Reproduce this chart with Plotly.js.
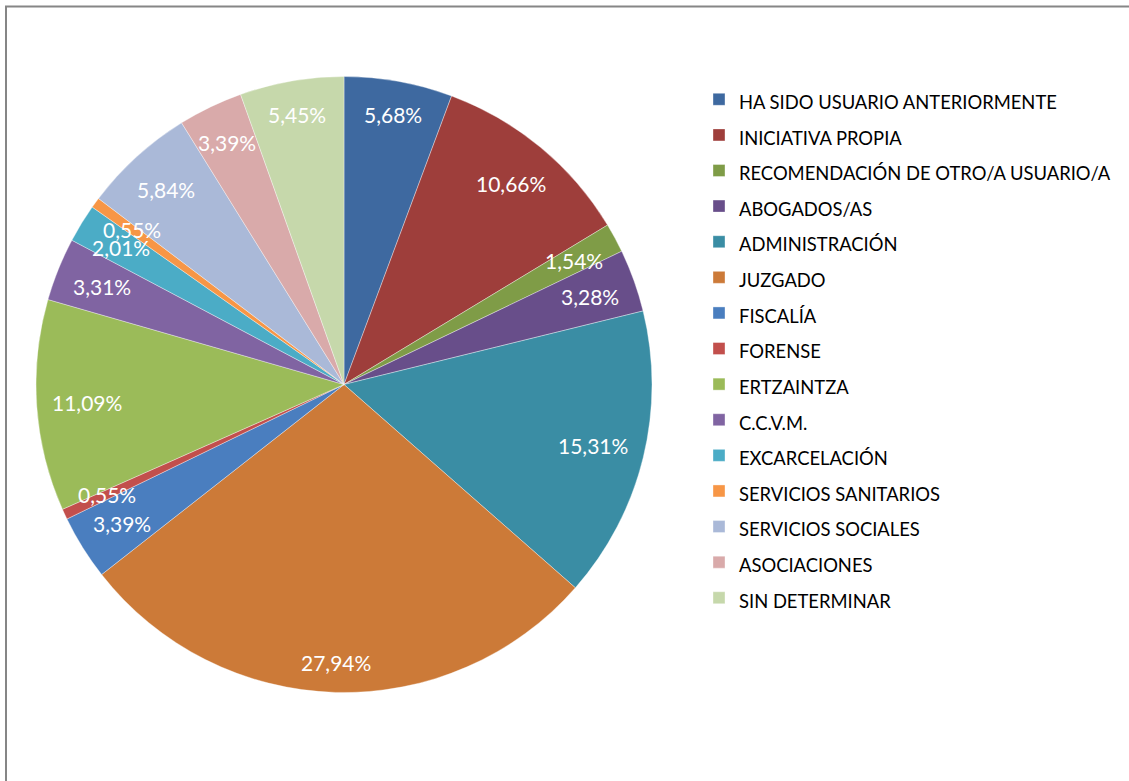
<!DOCTYPE html>
<html>
<head>
<meta charset="utf-8">
<script src="https://cdn.plot.ly/plotly-3.0.1.min.js"></script>
<style>
  html, body { margin: 0; padding: 0; background: #ffffff; }
  #chart { width: 1129px; height: 781px; }
</style>
</head>
<body>
<div id="chart"></div>
<script>
// ---- data ----
const categories = [
  "HA SIDO USUARIO ANTERIORMENTE",
  "INICIATIVA PROPIA",
  "RECOMENDACIÓN DE OTRO/A USUARIO/A",
  "ABOGADOS/AS",
  "ADMINISTRACIÓN",
  "JUZGADO",
  "FISCALÍA",
  "FORENSE",
  "ERTZAINTZA",
  "C.C.V.M.",
  "EXCARCELACIÓN",
  "SERVICIOS SANITARIOS",
  "SERVICIOS SOCIALES",
  "ASOCIACIONES",
  "SIN DETERMINAR"
];
const percentages = [5.68, 10.66, 1.54, 3.28, 15.31, 27.94, 3.39, 0.55, 11.09, 3.31, 2.01, 0.55, 5.84, 3.39, 5.45];
const sliceColors = [
  "#3E69A0", "#9E3E3B", "#7F9C47", "#684E8A", "#3A8DA4", "#CC7A38",
  "#4A7EBF", "#C24F4C", "#9BBB59", "#8064A2", "#4BACC6", "#F79646",
  "#AAB9D8", "#D9AAAA", "#C6D8AB"
];

// ---- layout constants ----
const W = 1129, H = 781;
const cx = 344, cy = 384.5, R = 308;      // pie centre / radius in px
const FONT = "Lato, 'Liberation Sans', sans-serif";
const labelSize = 21;
const legendTextSize = 18.4;

const labelText = percentages.map(v => v.toFixed(2).replace('.', ',') + '%');

const domainX = [(cx - R) / W, (cx + R) / W];
const domainY = [(H - cy - R) / H, (H - cy + R) / H];

// data labels placed near the outer edge of each slice (Excel "best fit" look)
const total = percentages.reduce((a, b) => a + b, 0);
let cum = 0;
const annotations = percentages.map((v, i) => {
  const mid = (cum + v / 2) / total * 2 * Math.PI;
  cum += v;
  const s = Math.sin(mid), c = Math.cos(mid);
  const hw = labelText[i].length * 0.24 * labelSize;
  const hh = 0.45 * labelSize;
  const d = R - 20 - (Math.abs(s) * hw + Math.abs(c) * hh);
  return {
    xref: 'paper', yref: 'paper',
    x: (cx + d * s) / W,
    y: (H - cy + d * c) / H,
    text: labelText[i],
    showarrow: false,
    xanchor: 'center', yanchor: 'middle',
    font: { family: FONT, size: labelSize, color: '#ffffff' }
  };
});

const trace = {
  type: 'pie',
  labels: categories.map(c => '<span style="font-size:' + legendTextSize + 'px">' + c + '</span>'),
  values: percentages,
  sort: false,
  direction: 'clockwise',
  rotation: 0,
  textinfo: 'none',
  hoverinfo: 'label+percent',
  marker: { colors: sliceColors, line: { color: 'rgba(255,255,255,0.6)', width: 0.6 } },
  domain: { x: domainX, y: domainY }
};

const layout = {
  width: W, height: H,
  margin: { l: 0, r: 0, t: 0, b: 0 },
  paper_bgcolor: '#ffffff',
  font: { family: FONT, color: '#000000' },
  showlegend: true,
  legend: {
    x: 699 / W, xanchor: 'left',
    y: 1 - 76.5 / H, yanchor: 'top',
    font: { family: FONT, size: 25.08, color: '#000000' },
    bgcolor: 'rgba(0,0,0,0)',
    borderwidth: 0,
    traceorder: 'normal'
  },
  annotations: annotations,
  shapes: [{
    type: 'rect', xref: 'paper', yref: 'paper',
    x0: 6 / W, x1: 1.02, y0: -0.02, y1: 1 - 6.5 / H,
    line: { color: '#868686', width: 2 }, fillcolor: 'rgba(0,0,0,0)', layer: 'below'
  }]
};

Plotly.newPlot('chart', [trace], layout, { displayModeBar: false, staticPlot: true });
</script>
</body>
</html>
